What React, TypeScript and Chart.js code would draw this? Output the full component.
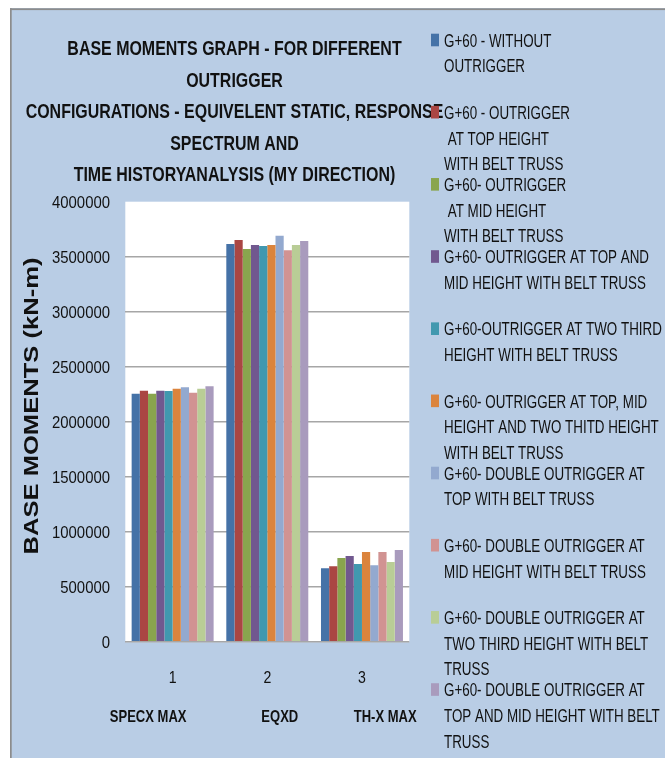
import React, { useEffect, useRef } from "react";
import { Chart, registerables } from "chart.js";

Chart.register(...registerables);

// ---------- DATA ----------
const tickLabels = ["1", "2", "3"];
const categoryNames = ["SPECX MAX", "EQXD", "TH-X MAX"];

const withoutOutrigger = [2255000, 3615000, 667000];
const outriggerTop = [2282000, 3652000, 685000];
const outriggerMid = [2255000, 3570000, 761000];
const outriggerTopMid = [2282000, 3606000, 779000];
const outriggerTwoThird = [2279000, 3597000, 706000];
const outriggerTopMidTwoThird = [2300000, 3606000, 815000];
const doubleTop = [2313000, 3691000, 694000];
const doubleMid = [2264000, 3558000, 815000];
const doubleTwoThird = [2300000, 3606000, 724000];
const doubleTopMid = [2322000, 3643000, 834000];

const seriesValues = [
  withoutOutrigger,
  outriggerTop,
  outriggerMid,
  outriggerTopMid,
  outriggerTwoThird,
  outriggerTopMidTwoThird,
  doubleTop,
  doubleMid,
  doubleTwoThird,
  doubleTopMid,
];

const legendLines = [
  ["G+60 - WITHOUT", "OUTRIGGER"],
  ["G+60 - OUTRIGGER", " AT TOP HEIGHT", "WITH BELT TRUSS"],
  ["G+60- OUTRIGGER", " AT MID HEIGHT", "WITH BELT TRUSS"],
  ["G+60- OUTRIGGER AT TOP AND", "MID HEIGHT WITH BELT TRUSS"],
  ["G+60-OUTRIGGER AT TWO THIRD", "HEIGHT WITH BELT TRUSS"],
  ["G+60- OUTRIGGER AT TOP, MID", "HEIGHT AND TWO THITD HEIGHT", "WITH BELT TRUSS"],
  ["G+60- DOUBLE OUTRIGGER AT", "TOP WITH BELT TRUSS"],
  ["G+60- DOUBLE OUTRIGGER AT", "MID HEIGHT WITH BELT TRUSS"],
  ["G+60- DOUBLE OUTRIGGER AT", "TWO THIRD HEIGHT WITH BELT", "TRUSS"],
  ["G+60- DOUBLE OUTRIGGER AT", "TOP AND MID HEIGHT WITH BELT", "TRUSS"],
];

const seriesColors = [
  "#4572A7",
  "#AA4643",
  "#89A54E",
  "#71588F",
  "#4198AF",
  "#DB843D",
  "#93A9CF",
  "#D19392",
  "#B9CD96",
  "#A99BBD",
];

const titleLines = [
  "BASE MOMENTS GRAPH - FOR DIFFERENT",
  "OUTRIGGER",
  "CONFIGURATIONS - EQUIVELENT STATIC, RESPONSE",
  "SPECTRUM AND",
  "TIME HISTORYANALYSIS (MY DIRECTION)",
];
const yAxisTitle = "BASE MOMENTS (kN-m)";

// ---------- LAYOUT ----------
const W = 665;
const H = 758;
const PLOT_LEFT = 125.3;
const PLOT_RIGHT = 409.3;
const PLOT_TOP = 201.7;
const PLOT_BOTTOM = 641.7;
const FONT = '"Liberation Sans", Arial, sans-serif';
const CAP = 0.716;
const BG = "#B9CDE5";
const TEXT = "#111111";
const categoryOffsets = [-24.5, 12.5, 23.2];

function fitScale(ctx: CanvasRenderingContext2D, text: string, px: number, weight: string, target: number) {
  ctx.save();
  ctx.font = `${weight} ${px}px ${FONT}`;
  const w = ctx.measureText(text).width;
  ctx.restore();
  return target / w;
}

function drawText(
  ctx: CanvasRenderingContext2D,
  text: string,
  x: number,
  cy: number,
  px: number,
  weight: string,
  sx: number,
  align: CanvasTextAlign,
  rotate = 0
) {
  ctx.save();
  ctx.font = `${weight} ${px}px ${FONT}`;
  ctx.fillStyle = TEXT;
  ctx.textAlign = align;
  ctx.textBaseline = "alphabetic";
  ctx.translate(x, cy);
  if (rotate) ctx.rotate(rotate);
  ctx.scale(sx, 1);
  ctx.fillText(text, 0, (px * CAP) / 2);
  ctx.restore();
}

const bgPlugin = {
  id: "bgPlugin",
  beforeDraw(chart: any) {
    const ctx = chart.ctx as CanvasRenderingContext2D;
    ctx.save();
    ctx.fillStyle = "#ffffff";
    ctx.fillRect(0, 0, W, H);
    ctx.fillStyle = BG;
    ctx.fillRect(10, 8, W - 10, H - 8);
    ctx.fillStyle = "#8c8c8c";
    ctx.fillRect(10, 8.3, W - 10, 1.8);
    ctx.fillRect(10, 8.3, 1.7, H - 8);
    const a = chart.chartArea;
    ctx.fillStyle = "#ffffff";
    ctx.fillRect(a.left, a.top, a.right - a.left, a.bottom - a.top + 0.5);
    ctx.restore();
  },
};

const textPlugin = {
  id: "textPlugin",
  afterDraw(chart: any) {
    const ctx = chart.ctx as CanvasRenderingContext2D;
    const ys = chart.scales.y;
    const xs = chart.scales.x;

    // y ticks
    const tickPx = 17.2;
    const tickSx = fitScale(ctx, "4000000", tickPx, "normal", 58);
    ys.ticks.forEach((t: any) => {
      drawText(ctx, String(t.value), 110, ys.getPixelForValue(t.value), tickPx, "normal", tickSx, "right");
    });

    // x ticks
    tickLabels.forEach((lab, i) => {
      drawText(ctx, lab, xs.getPixelForValue(i), 677.5, 16.3, "normal", tickSx, "center");
    });

    // category names
    const catPx = 16.3;
    const catSx = fitScale(ctx, "SPECX MAX", catPx, "bold", 76.7);
    categoryNames.forEach((name, i) => {
      drawText(ctx, name, xs.getPixelForValue(i) + categoryOffsets[i], 716, catPx, "bold", catSx, "center");
    });

    // y axis title
    const ytPx = 20;
    const ytSx = fitScale(ctx, yAxisTitle, ytPx, "bold", 297);
    drawText(ctx, yAxisTitle, 31, 406, ytPx, "bold", ytSx, "center", -Math.PI / 2);

    // chart title
    const tPx = 20;
    const tSx = fitScale(ctx, titleLines[0], tPx, "bold", 334.3);
    titleLines.forEach((line, i) => {
      drawText(ctx, line, 234.5, 48 + i * 31.5, tPx, "bold", tSx, "center");
    });

    // legend
    const lPx = 18.6;
    const lSx = fitScale(ctx, "G+60- OUTRIGGER AT TOP AND", lPx, "normal", 205);
    chart.data.datasets.forEach((ds: any, i: number) => {
      const y0 = 40 + i * 72.17;
      ctx.save();
      ctx.fillStyle = ds.backgroundColor;
      ctx.fillRect(431, y0 - 6.3, 8, 12.6);
      ctx.restore();
      legendLines[i].forEach((line, j) => {
        drawText(ctx, line, 444, y0 + j * 25.7, lPx, "normal", lSx, "left");
      });
    });
  },
};

export default function App() {
  const ref = useRef<HTMLCanvasElement | null>(null);

  useEffect(() => {
    document.body.style.margin = "0";
    document.documentElement.style.overflow = "hidden";
    const canvas = ref.current;
    if (!canvas) return;
    const datasets = seriesValues.map((vals, i) => ({
      label: legendLines[i].join(" ").replace(/\s+/g, " "),
      data: vals,
      backgroundColor: seriesColors[i],
      borderWidth: 0,
      categoryPercentage: 0.866,
      barPercentage: 1,
    }));
    const chart = new Chart(canvas, {
      type: "bar",
      data: { labels: tickLabels, datasets },
      options: {
        responsive: false,
        animation: false,
        devicePixelRatio: 1,
        layout: {
          padding: { left: 0, top: PLOT_TOP, right: W - PLOT_RIGHT, bottom: H - PLOT_BOTTOM },
        },
        plugins: {
          legend: { display: false },
          title: { display: false },
          tooltip: { enabled: false },
        },
        scales: {
          x: {
            grid: { display: false },
            border: { display: false },
            ticks: { display: false },
            afterFit: (s: any) => {
              s.height = 0;
            },
          },
          y: {
            min: 0,
            max: 4000000,
            ticks: { stepSize: 500000, display: false },
            grid: {
              color: (c: any) => (c.tick && c.tick.value === 4000000 ? "rgba(0,0,0,0)" : "#a6a6a6"),
              lineWidth: 1.5,
              drawTicks: false,
            },
            border: { display: false },
            afterFit: (s: any) => {
              s.width = PLOT_LEFT;
            },
          },
        },
      } as any,
      plugins: [bgPlugin, textPlugin],
    });
    return () => chart.destroy();
  }, []);

  return (
    <div style={{ width: W, height: H, position: "relative" }}>
      <canvas ref={ref} width={W} height={H} style={{ display: "block", width: W, height: H }} />
    </div>
  );
}
